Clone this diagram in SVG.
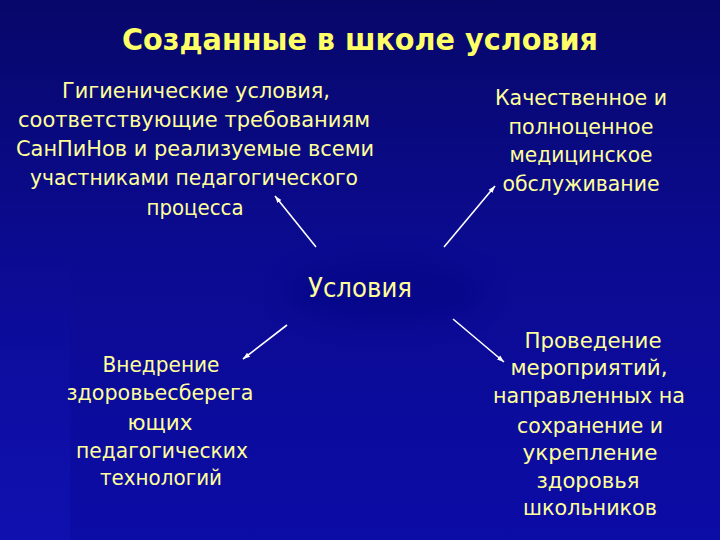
<svg xmlns="http://www.w3.org/2000/svg" width="720" height="540" viewBox="0 0 720 540">
  <defs>
    <linearGradient id="bg" x1="0" y1="0" x2="0" y2="1">
      <stop offset="0" stop-color="#07076a"/>
      <stop offset="0.45" stop-color="#0b0b90"/>
      <stop offset="1" stop-color="#0c0ca6"/>
    </linearGradient>
    <linearGradient id="strip" x1="0" y1="0" x2="0" y2="1">
      <stop offset="0" stop-color="#1414b8" stop-opacity="0"/>
      <stop offset="1" stop-color="#1414b8" stop-opacity="0.5"/>
    </linearGradient>
    <filter id="blur" x="-30%" y="-60%" width="160%" height="220%">
      <feGaussianBlur stdDeviation="12"/>
    </filter>
    <marker id="arr" markerWidth="8" markerHeight="8" refX="7" refY="4" orient="auto" markerUnits="userSpaceOnUse">
      <path d="M0,1.5 L7,4 L0,6.5 Z" fill="#ffffff"/>
    </marker>
    <style>
      .t { font-family: "DejaVu Sans", Verdana, sans-serif; fill: #ffff99; text-anchor: middle; }
      .b { font-size: 21px; }
      .c { font-size: 26px; }
      .title { font-family: "DejaVu Sans", Verdana, sans-serif; font-weight: bold; font-size: 31px; fill: #ffff66; text-anchor: middle; }
      .ln { stroke: #ffffff; stroke-width: 1.6; fill: none; marker-end: url(#arr); }
    </style>
  </defs>

  <rect x="0" y="0" width="720" height="540" fill="url(#bg)"/>
  <rect x="0" y="250" width="70" height="290" fill="url(#strip)"/>
  <ellipse cx="385" cy="292" rx="100" ry="32" fill="#06067a" opacity="0.35" filter="url(#blur)"/>

  <g id="title">
    <text class="title" x="360" y="50" textLength="476" lengthAdjust="spacingAndGlyphs">Созданные в школе условия</text>
  </g>

  <g id="center">
    <text class="t c" x="360" y="297" textLength="104" lengthAdjust="spacingAndGlyphs">Условия</text>
  </g>

  <g id="node-hygiene">
    <text class="t b" x="196" y="98" textLength="268" lengthAdjust="spacingAndGlyphs">Гигиенические условия,</text>
    <text class="t b" x="194" y="127" textLength="352" lengthAdjust="spacingAndGlyphs">соответствующие требованиям</text>
    <text class="t b" x="195" y="156" textLength="358" lengthAdjust="spacingAndGlyphs">СанПиНов и реализуемые всеми</text>
    <text class="t b" x="194" y="185" textLength="328" lengthAdjust="spacingAndGlyphs">участниками педагогического</text>
    <text class="t b" x="195" y="215" textLength="97" lengthAdjust="spacingAndGlyphs">процесса</text>
  </g>

  <g id="node-medical">
    <text class="t b" x="581" y="105" textLength="172" lengthAdjust="spacingAndGlyphs">Качественное и</text>
    <text class="t b" x="581" y="134" textLength="145" lengthAdjust="spacingAndGlyphs">полноценное</text>
    <text class="t b" x="581" y="162" textLength="143" lengthAdjust="spacingAndGlyphs">медицинское</text>
    <text class="t b" x="581" y="191" textLength="157" lengthAdjust="spacingAndGlyphs">обслуживание</text>
  </g>

  <g id="node-technologies">
    <text class="t b" x="161" y="372" textLength="117" lengthAdjust="spacingAndGlyphs">Внедрение</text>
    <text class="t b" x="160" y="400" textLength="187" lengthAdjust="spacingAndGlyphs">здоровьесберега</text>
    <text class="t b" x="160" y="430" textLength="65" lengthAdjust="spacingAndGlyphs">ющих</text>
    <text class="t b" x="162" y="458" textLength="172" lengthAdjust="spacingAndGlyphs">педагогических</text>
    <text class="t b" x="161" y="485" textLength="122" lengthAdjust="spacingAndGlyphs">технологий</text>
  </g>

  <g id="node-activities">
    <text class="t b" x="593" y="348" textLength="137" lengthAdjust="spacingAndGlyphs">Проведение</text>
    <text class="t b" x="589" y="375" textLength="157" lengthAdjust="spacingAndGlyphs">мероприятий,</text>
    <text class="t b" x="589" y="403" textLength="192" lengthAdjust="spacingAndGlyphs">направленных на</text>
    <text class="t b" x="590" y="433" textLength="146" lengthAdjust="spacingAndGlyphs">сохранение и</text>
    <text class="t b" x="590" y="460" textLength="135" lengthAdjust="spacingAndGlyphs">укрепление</text>
    <text class="t b" x="588" y="488" textLength="103" lengthAdjust="spacingAndGlyphs">здоровья</text>
    <text class="t b" x="590" y="515" textLength="134" lengthAdjust="spacingAndGlyphs">школьников</text>
  </g>

  <g id="connectors">
    <line class="ln" x1="316" y1="247" x2="275" y2="196"/>
    <line class="ln" x1="444" y1="247" x2="495" y2="186"/>
    <line class="ln" x1="287" y1="325" x2="243" y2="359"/>
    <line class="ln" x1="453" y1="319" x2="504" y2="362"/>
  </g>
</svg>
